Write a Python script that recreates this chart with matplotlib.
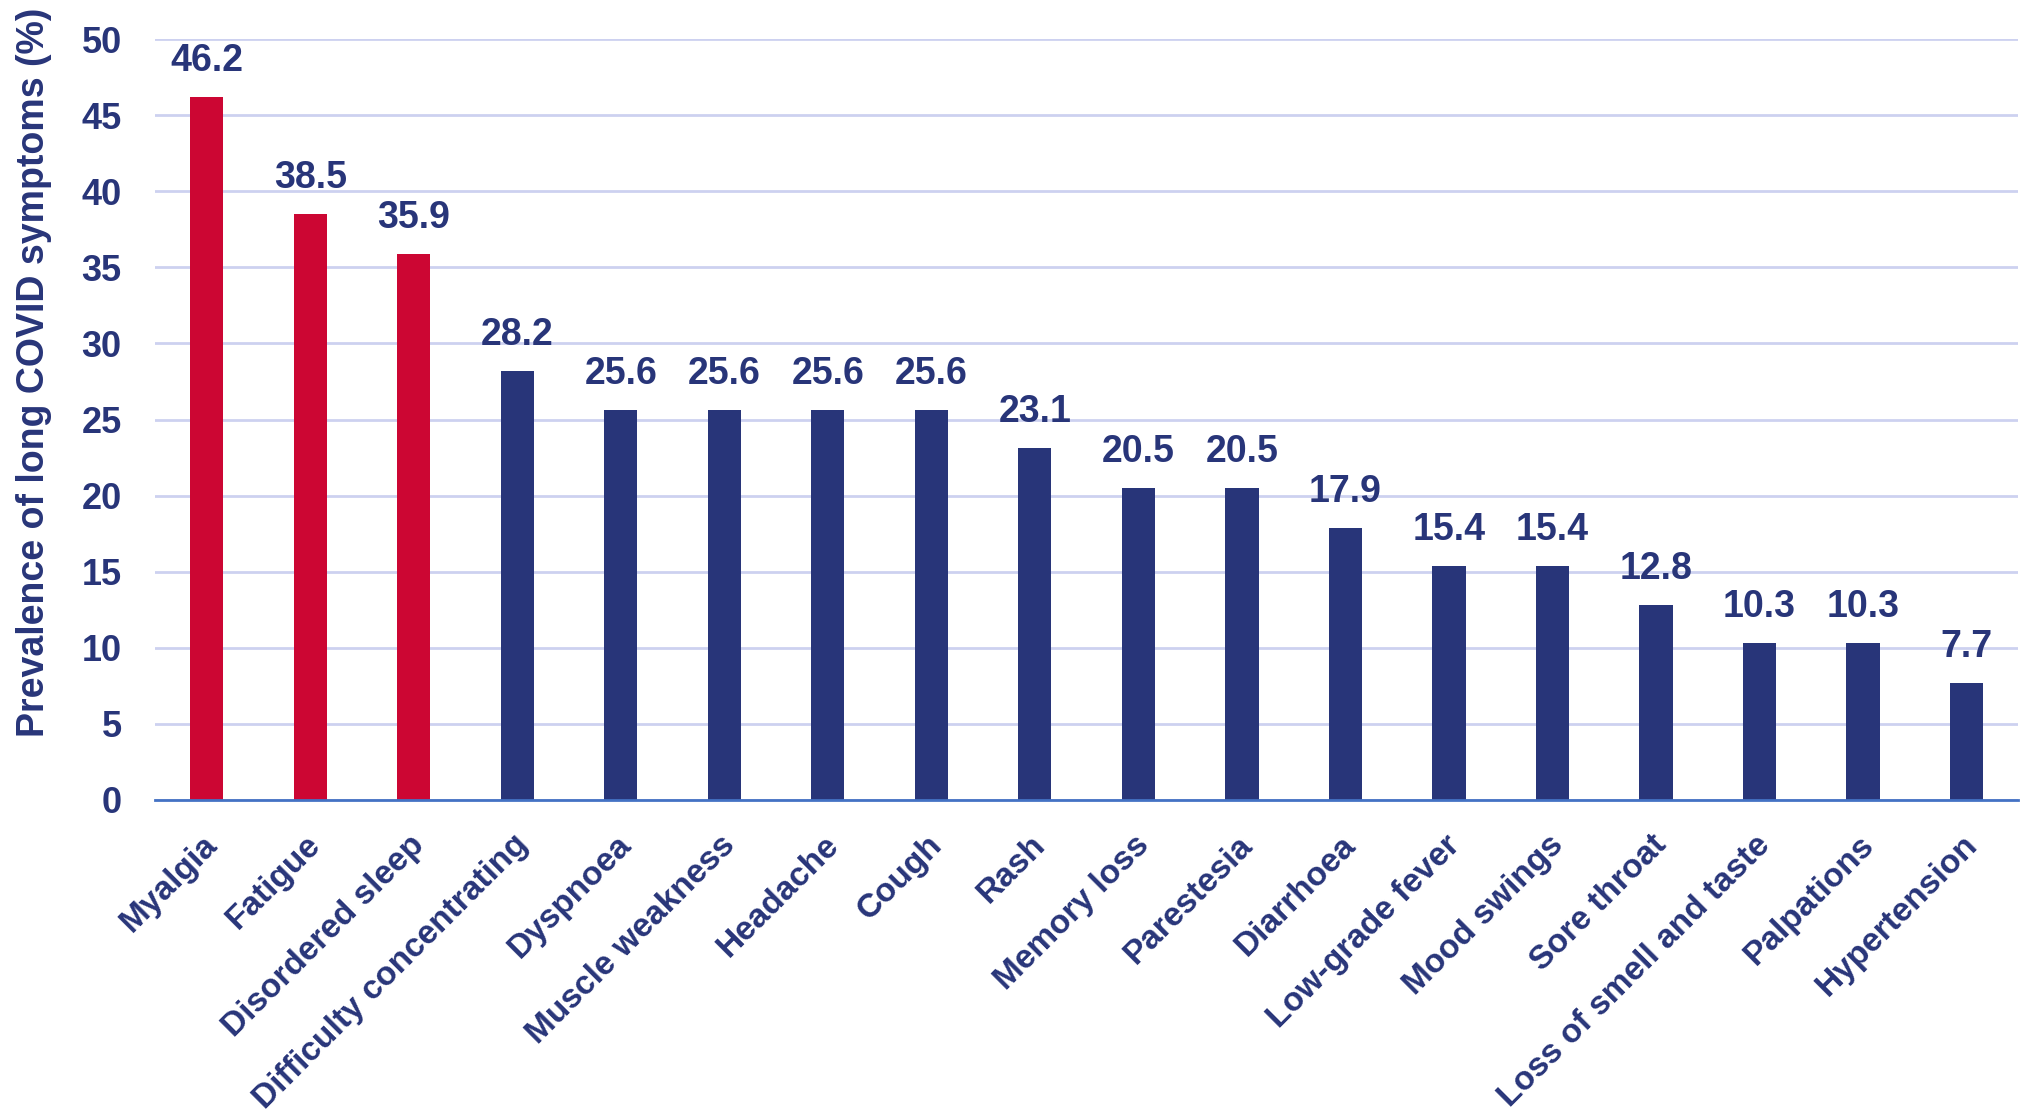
import matplotlib
matplotlib.use("Agg")
import matplotlib.pyplot as plt
import matplotlib.transforms as mtransforms
import numpy as np

# Data
symptoms = ['Myalgia', 'Fatigue', 'Disordered sleep', 'Difficulty concentrating',
            'Dyspnoea', 'Muscle weakness', 'Headache', 'Cough', 'Rash',
            'Memory loss', 'Parestesia', 'Diarrhoea', 'Low-grade fever',
            'Mood swings', 'Sore throat', 'Loss of smell and taste',
            'Palpations', 'Hypertension']
prevalence = [46.2, 38.5, 35.9, 28.2, 25.6, 25.6, 25.6, 25.6, 23.1,
              20.5, 20.5, 17.9, 15.4, 15.4, 12.8, 10.3, 10.3, 7.7]
n_highlight = 3

navy = '#283579'
red = '#CC0633'

plt.rcParams['font.family'] = ['Liberation Sans', 'DejaVu Sans']
plt.rcParams['font.weight'] = 'bold'

fig = plt.figure(figsize=(20.43, 11.19), dpi=100)
ax = fig.add_axes([0.0759, 0.2851, 0.912, 0.6800])

x = np.arange(len(symptoms))
colors = [red if i < n_highlight else navy for i in range(len(symptoms))]
bars = ax.bar(x, prevalence, width=0.32, color=colors, zorder=3)

# value labels above the bars
for xi, v in zip(x, prevalence):
    ax.annotate(f'{v:.1f}', (xi, v), xytext=(0, 13), textcoords='offset points',
                ha='center', va='bottom', fontsize=27, fontweight='bold', color=navy)

ax.set_xlim(-0.5, len(symptoms) - 0.5)
ax.set_ylim(0, 50)
ax.set_yticks(np.arange(0, 51, 5))
ax.yaxis.grid(True, color='#CDD1F0', linewidth=2, zorder=0)
ax.set_axisbelow(True)

for s in ['top', 'right', 'left']:
    ax.spines[s].set_visible(False)
ax.spines['bottom'].set_color('#4472C4')
ax.spines['bottom'].set_linewidth(2)
ax.spines['bottom'].set_zorder(4)

ax.tick_params(axis='y', length=0, pad=24, labelsize=26, labelcolor=navy)
ax.tick_params(axis='x', length=0, pad=29, labelsize=24, labelcolor=navy)
ax.set_xticks(x)
ax.set_xticklabels(symptoms, rotation=45, ha='right', va='center',
                   rotation_mode='anchor', fontweight='bold')
# nudge the slanted labels a little to the right
shift = mtransforms.ScaledTranslation(6 / 100, 0, fig.dpi_scale_trans)
for lbl in ax.get_xticklabels():
    lbl.set_transform(lbl.get_transform() + shift)
for lbl in ax.get_yticklabels():
    lbl.set_fontweight('bold')

fig.text(0.0166, 0.667, 'Prevalence of long COVID symptoms (%)', rotation=90,
         ha='center', va='center', fontsize=27, fontweight='bold', color=navy)

fig.savefig('out.png', dpi=100)
